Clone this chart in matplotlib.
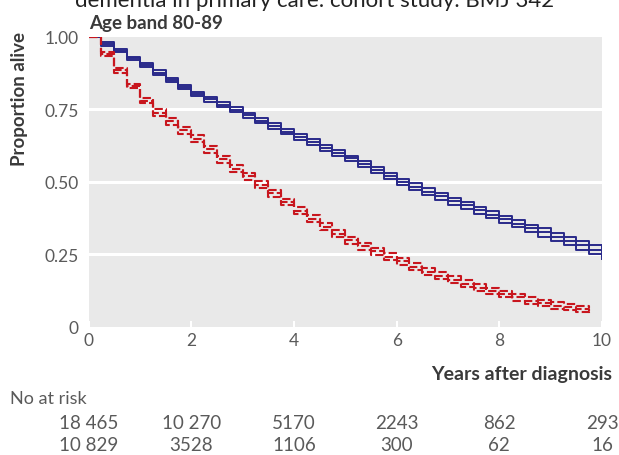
import matplotlib
matplotlib.use('Agg')
import matplotlib.pyplot as plt

# Kaplan-Meier estimates (proportion alive)
years_blue = [0.0, 0.25, 0.5, 0.75, 1.0, 1.25, 1.5, 1.75, 2.0, 2.25, 2.5, 2.75,
              3.0, 3.25, 3.5, 3.75, 4.0, 4.25, 4.5, 4.75, 5.0, 5.25, 5.5, 5.75,
              6.0, 6.25, 6.5, 6.75, 7.0, 7.25, 7.5, 7.75, 8.0, 8.25, 8.5, 8.75,
              9.0, 9.25, 9.5, 9.75, 10.0]
surv_blue = [1.000, 0.975, 0.952, 0.925, 0.902, 0.876, 0.851, 0.826, 0.803, 0.784,
             0.766, 0.748, 0.729, 0.711, 0.692, 0.673, 0.655, 0.636, 0.617, 0.598,
             0.580, 0.560, 0.540, 0.520, 0.500, 0.483, 0.466, 0.449, 0.433, 0.418,
             0.402, 0.386, 0.370, 0.355, 0.340, 0.325, 0.310, 0.295, 0.280, 0.266,
             0.245]
lower_blue = [1.000, 0.969, 0.946, 0.919, 0.896, 0.868, 0.843, 0.818, 0.795, 0.776,
              0.758, 0.740, 0.721, 0.701, 0.682, 0.663, 0.645, 0.626, 0.607, 0.588,
              0.570, 0.550, 0.530, 0.510, 0.490, 0.471, 0.454, 0.437, 0.421, 0.406,
              0.390, 0.374, 0.358, 0.343, 0.328, 0.311, 0.296, 0.281, 0.266, 0.252,
              0.234]
upper_blue = [1.000, 0.981, 0.958, 0.931, 0.908, 0.884, 0.859, 0.834, 0.811, 0.792,
              0.774, 0.756, 0.737, 0.721, 0.702, 0.683, 0.665, 0.646, 0.627, 0.608,
              0.590, 0.570, 0.550, 0.530, 0.510, 0.495, 0.478, 0.461, 0.445, 0.430,
              0.414, 0.398, 0.382, 0.367, 0.352, 0.339, 0.324, 0.309, 0.294, 0.280,
              0.268]

years_red = [0.0, 0.25, 0.5, 0.75, 1.0, 1.25, 1.5, 1.75, 2.0, 2.25, 2.5, 2.75,
             3.0, 3.25, 3.5, 3.75, 4.0, 4.25, 4.5, 4.75, 5.0, 5.25, 5.5, 5.75,
             6.0, 6.25, 6.5, 6.75, 7.0, 7.25, 7.5, 7.75, 8.0, 8.25, 8.5, 8.75,
             9.0, 9.25, 9.5, 9.75]
surv_red = [1.000, 0.940, 0.884, 0.830, 0.780, 0.737, 0.708, 0.678, 0.648, 0.612,
            0.578, 0.545, 0.518, 0.490, 0.460, 0.430, 0.400, 0.372, 0.345, 0.320,
            0.298, 0.278, 0.260, 0.242, 0.225, 0.207, 0.190, 0.176, 0.162, 0.148,
            0.135, 0.124, 0.113, 0.101, 0.090, 0.081, 0.073, 0.067, 0.062, 0.055]
lower_red = [1.000, 0.932, 0.876, 0.822, 0.772, 0.725, 0.696, 0.666, 0.636, 0.600,
             0.566, 0.533, 0.506, 0.478, 0.448, 0.418, 0.388, 0.360, 0.333, 0.308,
             0.286, 0.266, 0.248, 0.230, 0.213, 0.195, 0.178, 0.164, 0.150, 0.136,
             0.123, 0.113, 0.102, 0.090, 0.079, 0.070, 0.062, 0.056, 0.051, 0.044]
upper_red = [1.000, 0.948, 0.892, 0.838, 0.788, 0.749, 0.720, 0.690, 0.660, 0.624,
             0.590, 0.557, 0.530, 0.502, 0.472, 0.442, 0.412, 0.384, 0.357, 0.332,
             0.310, 0.290, 0.272, 0.254, 0.237, 0.219, 0.202, 0.188, 0.174, 0.160,
             0.147, 0.135, 0.124, 0.112, 0.101, 0.092, 0.084, 0.078, 0.073, 0.066]

# Numbers at risk table
risk_years = [0, 2, 4, 6, 8, 10]
risk_blue = ["18 465", "10 270", "5170", "2243", "862", "293"]
risk_red = ["10 829", "3528", "1106", "300", "62", "16"]

y_ticks = [0, 0.25, 0.5, 0.75, 1.0]
y_labels = ["0", "0.25", "0.50", "0.75", "1.00"]
x_ticks = [0, 2, 4, 6, 8, 10]

blue = "#29298A"
red = "#C8161E"
label_grey = "#5a5a5a"
head_grey = "#3a3a3a"
fonts = ['Lato', 'DejaVu Sans']

fig = plt.figure(figsize=(6.19, 4.56), dpi=100)
ax = fig.add_axes([0.143, 0.2814, 0.8296, 0.6359])
ax.set_facecolor("#E9E9E9")

# white horizontal grid
for v in y_ticks[1:-1]:
    ax.axhline(v, color="white", lw=2.2, zorder=1)

# blue group: solid estimate + CI
for ys in (lower_blue, upper_blue, surv_blue):
    ax.step(years_blue, ys, where='post', color=blue, lw=1.4, zorder=3)

# red group: dashed estimate + CI
for ys in (lower_red, upper_red, surv_red):
    ax.step(years_red, ys, where='post', color=red, lw=1.5,
            linestyle=(0, (4, 1.5)), zorder=3)

ax.set_xlim(0, 10)
ax.set_ylim(0, 1)
for s in ax.spines.values():
    s.set_visible(False)

ax.set_xticks(x_ticks)
ax.set_xticklabels([str(t) for t in x_ticks], fontsize=12.5, color=label_grey,
                   family=fonts)
ax.set_yticks(y_ticks)
ax.set_yticklabels(y_labels, fontsize=12.5, color=label_grey, family=fonts)
ax.tick_params(axis='x', direction='in', length=4, width=1.5, color='white', pad=4)
ax.tick_params(axis='y', length=0, pad=7)

# Titles and axis labels (top line is cropped in the source figure)
fig.text(315 / 619, 1 - 7 / 456, "dementia in primary care: cohort study. BMJ 342",
         ha='center', va='baseline', fontsize=16, color="#222222", family=fonts)
fig.text(89 / 619, 1 - 29 / 456, "Age band 80-89", ha='left', va='baseline',
         fontsize=13.5, fontweight='bold', color=head_grey, family=fonts)
fig.text(20 / 619, 1 - 99 / 456, "Proportion alive", rotation=90, ha='center',
         va='center', fontsize=13.5, fontweight='bold', color=head_grey, family=fonts)
fig.text(612 / 619, 1 - 380 / 456, "Years after diagnosis", ha='right',
         va='baseline', fontsize=14, fontweight='bold', color=head_grey, family=fonts)
fig.text(10 / 619, 1 - 399 / 456, "No at risk", ha='left', va='center',
         fontsize=13, color=label_grey, family=fonts)

# risk table rows, centred under the year ticks
for t, a, b in zip(risk_years, risk_blue, risk_red):
    xf = ax.transData.transform((t, 0))[0] / fig.bbox.width
    fig.text(xf, 1 - 424 / 456, a, ha='center', va='center', fontsize=13.5,
             color=label_grey, family=fonts)
    fig.text(xf, 1 - 446 / 456, b, ha='center', va='center', fontsize=13.5,
             color=label_grey, family=fonts)

fig.savefig("out.png", dpi=100)
